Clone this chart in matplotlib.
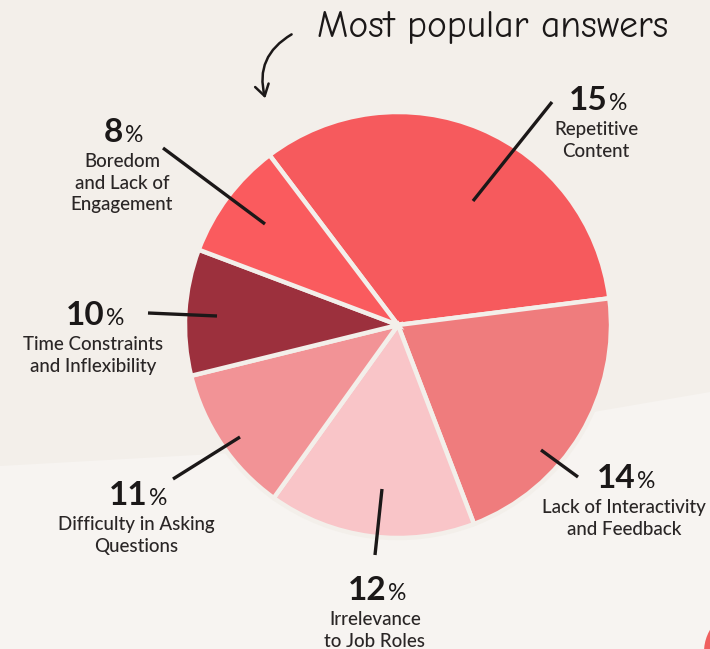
import matplotlib
matplotlib.use("Agg")
import matplotlib.pyplot as plt
from matplotlib.patches import FancyArrowPatch, Circle, Polygon
import numpy as np

# answers, in clockwise order starting from the top-left boundary
answers = ["Repetitive\nContent", "Lack of Interactivity\nand Feedback", "Irrelevance\nto Job Roles",
           "Difficulty in Asking\nQuestions", "Time Constraints\nand Inflexibility", "Boredom\nand Lack of\nEngagement"]
percents = [15, 14, 12, 11, 10, 8]
# slice sizes as drawn in the picture (degrees)
shares = [119.9, 76.3, 56.6, 40.5, 34.5, 32.2]
colors = ["#F65A5D", "#EF7C7D", "#F9C5C8", "#F29396", "#9C303D", "#FA5B5E"]

W, H = 710, 649
BG = "#F3EFEA"
INK = "#1B1818"

# label anchors (pixels, top-left origin): percent centre, leader start, leader end
pct_pos = [(598, 98), (626, 476), (377, 588), (138, 493), (95, 313), (124, 130)]
lead_from = [(552, 102), (578, 477), (375, 555), (173, 479), (148, 313), (163, 148)]
lead_to = [(473, 201), (541, 450), (382, 489), (240, 437), (217, 316), (265, 224)]

plt.rcParams['font.family'] = ['Lato', 'DejaVu Sans']


def Y(y):
    return H - y


fig = plt.figure(figsize=(W / 100, H / 100), dpi=100, facecolor=BG)
ax = fig.add_axes([0, 0, 1, 1])
ax.set_facecolor(BG)

# lighter lower part of the background
ax.add_patch(Polygon([(0, Y(466)), (250, Y(452)), (500, Y(428)), (710, Y(392)), (710, 0), (0, 0)],
                     closed=True, facecolor="#F7F4F1", edgecolor="none", zorder=0))
ax.add_patch(Circle((748, Y(652)), 44, facecolor="#F0605F", edgecolor="none", zorder=0))

ax.pie(shares, colors=colors, startangle=127.1, counterclock=False,
       center=(398, Y(325)), radius=213,
       wedgeprops=dict(edgecolor=BG, linewidth=3.2))

ax.set_xlim(0, W)
ax.set_ylim(0, H)
ax.set_aspect('equal')
ax.axis('off')

for (x0, y0), (x1, y1) in zip(lead_from, lead_to):
    ax.plot([x0, x1], [Y(y0), Y(y1)], color=INK, lw=2.4, solid_capstyle='butt', zorder=5)

# percent labels: bold number + lighter "%" sign, centred together
fig.canvas.draw()
renderer = fig.canvas.get_renderer()
for label, pct, (cx, cy) in zip(answers, percents, pct_pos):
    num = ax.text(0, Y(cy) - 12, str(pct), fontsize=24, fontweight='bold', color=INK,
                  ha='left', va='baseline')
    sign = ax.text(0, Y(cy) - 12, "%", fontsize=16.5, color=INK, ha='left', va='baseline')
    wn = num.get_window_extent(renderer).width
    ws = sign.get_window_extent(renderer).width
    left = cx - (wn + ws + 2) / 2
    num.set_x(left)
    sign.set_x(left + wn + 2)
    ax.text(cx - 2, Y(cy) - 23, label, fontsize=13.5, fontweight='medium', color="#2A2626",
            ha='center', va='top', linespacing=1.33)

# hand-written style title with curved arrow
ax.text(493, Y(28), "Most popular answers", fontsize=27, color=INK, ha='center', va='center',
        family=['Humor Sans', 'Comic Neue', 'DejaVu Sans'])
arrow = FancyArrowPatch((294, Y(33)), (266, Y(101)), connectionstyle="arc3,rad=0.4",
                        arrowstyle="->,head_length=8,head_width=5", color=INK, lw=1.8)
ax.add_patch(arrow)

fig.savefig("out.png", dpi=100, facecolor=BG)
